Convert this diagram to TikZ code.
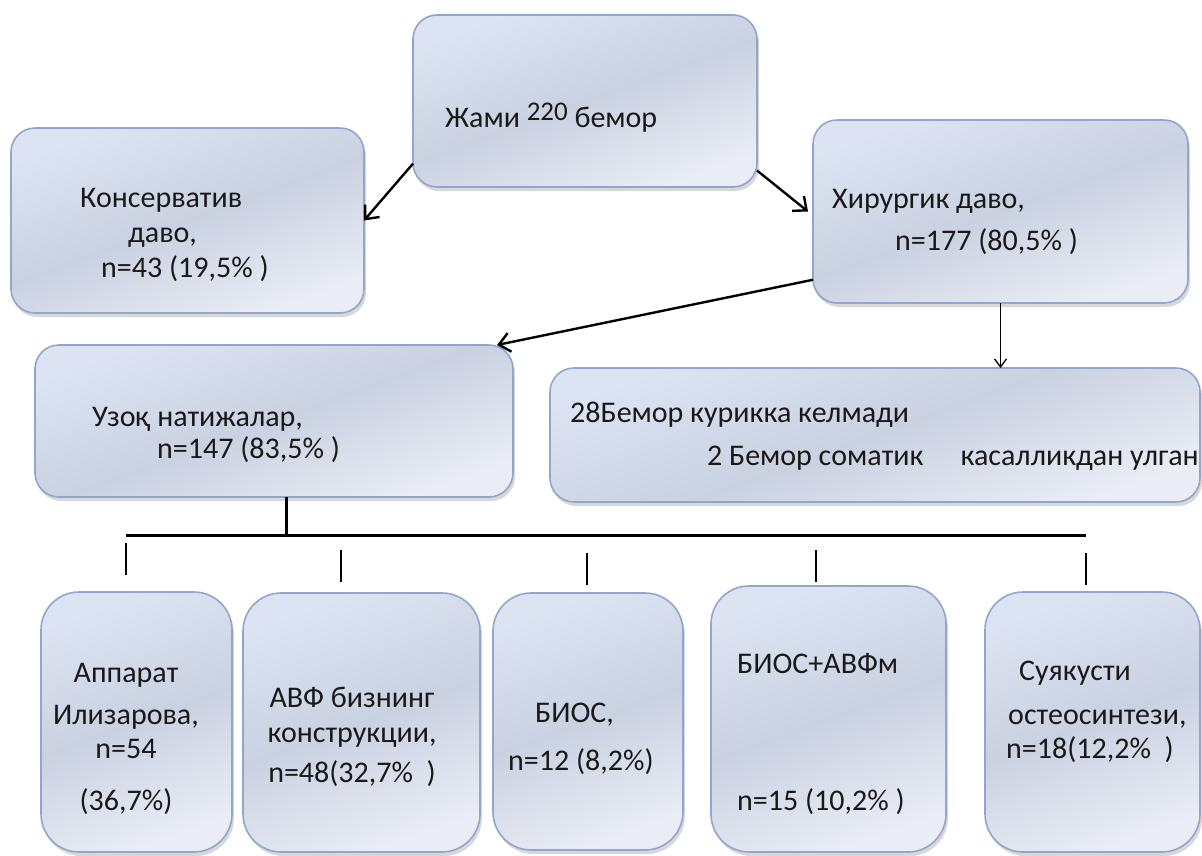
\documentclass[tikz,border=0pt]{standalone}
\usepackage{fontspec}
\setmainfont{Carlito}
\usepackage{tikz}
\usetikzlibrary{positioning, calc, shapes, arrows.meta, shadows}
\definecolor{BoxTop}{RGB}{220,228,243}
\definecolor{BoxMid}{RGB}{202,209,225}
\definecolor{BoxBot}{RGB}{234,237,245}
\definecolor{BoxEdge}{RGB}{145,166,204}
\definecolor{Ink}{RGB}{25,25,25}
\tikzstyle{Pointer} = [
%Thick black arrow with open barb:
line width = 2.4pt,
-{Straight Barb[length = 11pt, width = 19pt, line width = 2.4pt]}
]
\tikzstyle{ThinPointer} = [
line width = 1.3pt,
-{Straight Barb[length = 8pt, width = 12pt, line width = 1.3pt]}
]

\begin{document}
\begin{tikzpicture}[x = 1pt, y = -1pt,
					      box/.style = {rectangle, rounded corners = 24pt, draw = BoxEdge, line width = 1.6pt, inner sep = 0pt, outer sep = 0pt,
					                    top color = BoxTop, bottom color = BoxBot, middle color = BoxMid, shading angle = 20,
					                    drop shadow = {shadow xshift = 2pt, shadow yshift = -4pt, fill = black!30, opacity = 0.5}},
					      tall/.style = {box, rounded corners = 38pt},
					      txt/.style = {inner sep = 0pt, text = Ink, font = \fontsize{30pt}{36pt}\selectfont},
					      bus/.style = {line width = 3pt},
					      tick/.style = {line width = 2.4pt},
				      ]
				      \path[use as bounding box, fill = white] (0,0) rectangle (1202,855);

				      % boxes
				      \node[box, minimum width = 344pt, minimum height = 172pt] (Tot) at (585,101) {};
				      \node[box, minimum width = 353pt, minimum height = 185pt] (Kons) at (187.5,220.5) {};
				      \node[box, minimum width = 375pt, minimum height = 183pt] (Hir) at (1000.5,211.5) {};
				      \node[box, minimum width = 478pt, minimum height = 152pt] (Uzoq) at (274,421) {};
				      \node[box, minimum width = 650pt, minimum height = 134pt] (Lost) at (875,435) {};
				      \node[tall, minimum width = 191pt, minimum height = 260pt] (Ilz) at (136.5,722) {};
				      \node[tall, minimum width = 237pt, minimum height = 259pt] (Avf) at (361.5,722.5) {};
				      \node[tall, minimum width = 190pt, minimum height = 257pt] (Bios) at (588,721.5) {};
				      \node[tall, minimum width = 235pt, minimum height = 266pt] (BiAv) at (828.5,719) {};
				      \node[tall, minimum width = 215pt, minimum height = 260pt] (Suy) at (1092.5,722) {};

				      % texts (base = last line)
				      \node[txt, anchor = base west] (TotT) at (445,127) {Жами \raisebox{7pt}{\fontsize{27pt}{27pt}\selectfont 220} бемор};
				      \node[txt, anchor = base west, align = left] (KonsT) at (80,277) {Консерватив\\[-1pt]\hspace*{48pt}даво,\\[-1pt]\hspace*{21pt}n=43 (19,5\% )};
				      \node[txt, anchor = base west, align = left] (HirT) at (832,250) {Хирургик даво,\\[6pt]\hspace*{63pt}n=177 (80,5\% )};
				      \node[txt, anchor = base west, align = left] (UzoqT) at (92,458) {Узоқ натижалар,\\[-4pt]\hspace*{65pt}n=147 (83,5\% )};
				      \node[txt, anchor = base west, align = left] (LostT) at (570,465) {28Бемор курикка келмади\\[7pt]\hspace*{137pt}2 Бемор соматик\hspace{37pt}касалликдан улган};
				      \node[txt, anchor = base, align = center] (IlzT) at (126,810) {Аппарат\\[6pt]Илизарова,\\[-2pt]n=54\\[16pt](36,7\%)};
				      \node[txt, anchor = base, align = center] (AvfT) at (352,782) {АВФ бизнинг\\[-1pt]конструкции,\\[4pt]n=48(32,7\%\ \ )};
				      \node[txt, anchor = base west, align = left] (BiosT) at (508,770) {\hspace*{27pt}БИОС,\\[12pt]n=12 (8,2\%)};
				      \node[txt, anchor = base west, align = left] (BiAvT) at (737,810) {БИОС+АВФм\\[101pt]n=15 (10,2\% )};
				      \node[txt, anchor = base west, align = left] (SuyT) at (1006,758) {\hspace*{13pt}Суякусти\\[8pt]\hspace*{2pt}остеосинтези,\\[-2pt]n=18(12,2\%\ \ )};

				      % arrows
				      \draw[Pointer](Tot.200)--(Kons.east);
				      \draw[Pointer](Tot.-22)--([xshift=-5pt]Hir.west);
				      \draw[Pointer](Hir.200)--([xshift=-16pt]Uzoq.north east);
				      \draw[ThinPointer](Hir.south)--(Hir.south |- Lost.north);

				      % tree
				      \coordinate (BusL) at (126,535);
				      \coordinate (BusR) at (1086,535);
				      \draw[bus](BusL)--(BusR);
				      \draw[bus]([xshift=12pt]Uzoq.south)--([xshift=12pt]Uzoq.south |- BusL);
				      \foreach \b/\dx/\gap in {Ilz/-10.5/17, Avf/-20.5/11, Bios/-1/8, BiAv/-12.5/4, Suy/-6.5/7}
				        \draw[tick]([xshift=\dx pt, yshift=\gap pt]\b.north)--++(0,-32);
			      \end{tikzpicture}
\end{document}
